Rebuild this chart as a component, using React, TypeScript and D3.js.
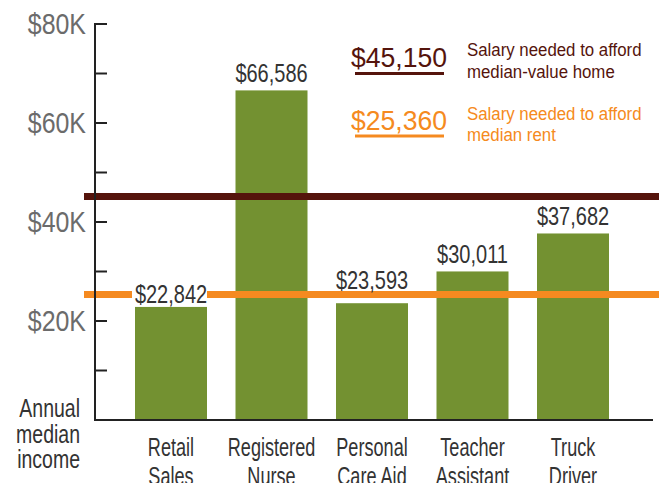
import React from "react";
import * as d3 from "d3";

const categories = ["Retail Sales", "Registered Nurse", "Personal Care Aid", "Teacher Assistant", "Truck Driver"];
const categoryLines = [["Retail", "Sales"], ["Registered", "Nurse"], ["Personal", "Care Aid"], ["Teacher", "Assistant"], ["Truck", "Driver"]];
const salaries = [22842, 66586, 23593, 30011, 37682];
const yTicks = [0, 10000, 20000, 30000, 40000, 50000, 60000, 70000, 80000];
const yTickLabels = ["", "", "$20K", "", "$40K", "", "$60K", "", "$80K"];
const thresholds = [45150, 25360];
const thresholdLabels = ["$45,150", "$25,360"];
const thresholdDescriptions = [["Salary needed to afford", "median-value home"], ["Salary needed to afford", "median rent"]];
const yAxisTitle = ["Annual", "median", "income"];

const W = 659;
const H = 483;
const FONT = "'Liberation Sans', Arial, sans-serif";
const GREEN = "#739131";
const lineColors = ["#55140c", "#f58a20"];
const LINE_W = 7;
const VALUE_SIZE = 25;

function CText(props: { x: number; y: number; size: number; sx: number; fill: string; anchor?: string; dy?: string; children: React.ReactNode }) {
  const { x, y, size, sx, fill, anchor = "start", dy, children } = props;
  return (
    <text transform={`translate(${x},${y}) scale(${sx},1)`} textAnchor={anchor} fontSize={size} fill={fill} dy={dy}>
      {children}
    </text>
  );
}

export default function App() {
  const y = d3.scaleLinear().domain([0, 80000]).range([420, 24]);
  const x = d3.scaleBand<string>().domain(categories).range([120.75, 623.25]).paddingInner(0.2836).paddingOuter(0.1418);
  const fmt = (v: number) => "$" + d3.format(",")(v);
  const axisX = 95;
  const digitH = VALUE_SIZE * 0.72;

  const labels = salaries.map((v, i) => {
    const top = y(v);
    let baseline = top - 8;
    let knock: number | null = null;
    for (const t of thresholds) {
      const ly = y(t);
      const lineTop = ly - LINE_W / 2;
      const lineBot = ly + LINE_W / 2;
      const boxTop = baseline - digitH;
      const boxBot = baseline + 3;
      if (boxBot > lineTop && boxTop < lineBot) {
        if (top - ly > 10) {
          baseline = ly + digitH / 2;
          knock = ly;
        } else {
          baseline = lineTop - 2;
        }
      }
    }
    return { v, i, baseline, knock };
  });

  return (
    <svg width={W} height={H} style={{ position: "absolute", left: 0, top: 0, background: "#fff" }} fontFamily={FONT}>
      {/* bars */}
      {categories.map((c, i) => (
        <rect key={c} x={x(c)} y={y(salaries[i])} width={x.bandwidth()} height={y(0) - y(salaries[i])} fill={GREEN} />
      ))}
      {/* threshold lines */}
      {thresholds.map((t, i) => (
        <line key={t} x1={84} x2={W} y1={y(t)} y2={y(t)} stroke={lineColors[i]} strokeWidth={LINE_W} />
      ))}
      {/* axes */}
      <line x1={axisX} x2={axisX} y1={y(80000) - 1} y2={y(0) + 1} stroke="#222" strokeWidth={2} />
      <line x1={axisX - 1} x2={653} y1={y(0)} y2={y(0)} stroke="#222" strokeWidth={2} />
      {yTicks.map((t, i) => (
        <g key={t}>
          {t > 0 && <line x1={axisX} x2={axisX + 12} y1={y(t)} y2={y(t)} stroke="#222" strokeWidth={2} />}
          {yTickLabels[i] && (
            <CText x={86} y={y(t)} dy="0.36em" anchor="end" size={29} sx={0.86} fill="#6b6b6b">
              {yTickLabels[i]}
            </CText>
          )}
        </g>
      ))}
      {/* value labels */}
      {labels.map(({ v, i, baseline, knock }) => {
        const cx = (x(categories[i]) as number) + x.bandwidth() / 2;
        return (
          <g key={i}>
            {knock !== null && (
              <rect x={(x(categories[i]) as number) - 3} y={knock - LINE_W / 2 - 1} width={x.bandwidth() + 3} height={LINE_W + 2} fill="#fff" />
            )}
            <CText x={cx} y={baseline} anchor="middle" size={VALUE_SIZE} sx={0.8} fill="#333">
              {fmt(v)}
            </CText>
          </g>
        );
      })}
      {/* category labels */}
      {categories.map((c, i) =>
        categoryLines[i].map((l, j) => (
          <CText key={c + j} x={(x(c) as number) + x.bandwidth() / 2} y={456 + j * 29} anchor="middle" size={25.5} sx={0.71} fill="#333">
            {l}
          </CText>
        ))
      )}
      {/* y axis title */}
      {yAxisTitle.map((l, j) => (
        <CText key={j} x={80} y={417 + j * 25.5} anchor="end" size={25} sx={0.78} fill="#333">
          {l}
        </CText>
      ))}
      {/* legend */}
      {thresholds.map((t, i) => {
        const base = [67, 129.5][i];
        const descBase = [56, 119.5][i];
        return (
          <g key={t}>
            <CText x={351} y={base} size={28} sx={0.95} fill={lineColors[i]}>
              {thresholdLabels[i]}
            </CText>
            <rect x={355} y={base + 5} width={89} height={3} fill={lineColors[i]} />
            {thresholdDescriptions[i].map((l, j) => (
              <CText key={j} x={467} y={descBase + j * 21.5} size={18.5} sx={0.91} fill={lineColors[i]}>
                {l}
              </CText>
            ))}
          </g>
        );
      })}
    </svg>
  );
}
